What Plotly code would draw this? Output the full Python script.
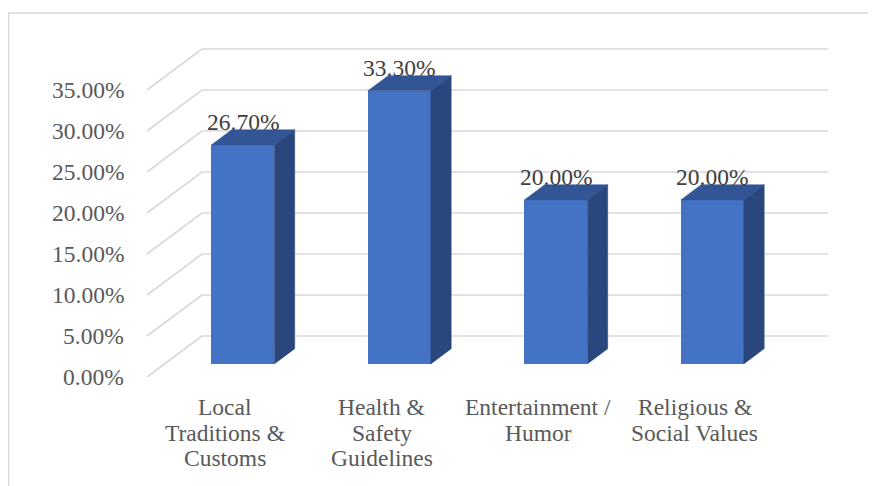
import plotly.graph_objects as go

# ---------------- data ----------------
categories = [
    "Local<br>Traditions &<br>Customs",
    "Health &<br>Safety<br>Guidelines",
    "Entertainment /<br>Humor",
    "Religious &<br>Social Values",
]
values = [26.7, 33.3, 20.0, 20.0]
value_labels = ["26.70%", "33.30%", "20.00%", "20.00%"]
y_ticks = [0, 5, 10, 15, 20, 25, 30, 35]
y_tick_labels = ["0.00%", "5.00%", "10.00%", "15.00%", "20.00%", "25.00%", "30.00%", "35.00%"]

# ---------------- geometry / style ----------------
OFF = 8               # page body margin of the browser
W, H = 876 - OFF, 486 - OFF
PX_X = 156.5          # pixels per category slot
PX_Y = 8.2            # pixels per percentage point
X0_PX = 225.25 - OFF  # pixel of first front slot centre
Y0_PX = 377.0 - OFF   # pixel of 0% on the front plane
DX = 55 / PX_X        # depth offset of the back wall (x units)
DY = 41 / PX_Y        # depth offset of the back wall (y units)
F0, F1 = 0.32, 0.69   # bar front / back depth fractions
HW = 31.5 / PX_X      # half bar width

FONT = "Liberation Serif"
FS = 23.5
GRID = "#d9d9d9"
FRONT = "#4472C4"
TOP = "#325596"
SIDE = "#29477D"

x_range = [-X0_PX / PX_X, (W - X0_PX) / PX_X]
y_range = [(Y0_PX - H) / PX_Y, Y0_PX / PX_Y]

n = len(values)
fig = go.Figure()

# gridlines (left wall diagonals + back wall horizontals)
shapes = []
for v in y_ticks:
    shapes.append(dict(type="line", xref="x", yref="y", layer="below",
                       x0=-0.5, y0=v, x1=-0.5 + DX, y1=v + DY,
                       line=dict(color=GRID, width=1.6)))
    shapes.append(dict(type="line", xref="x", yref="y", layer="below",
                       x0=-0.5 + DX, y0=v + DY, x1=n - 0.5 + DX, y1=v + DY,
                       line=dict(color=GRID, width=1.6)))
# outer chart border
shapes.append(dict(type="rect", xref="paper", yref="paper", layer="below",
                   x0=(8 - OFF + 0.5) / W, y0=-0.05, x1=1.05, y1=1 - (13 - OFF) / H,
                   line=dict(color=GRID, width=1.5), fillcolor="rgba(0,0,0,0)"))

# front faces of bars
xc = [i + F0 * DX for i in range(n)]
fig.add_trace(go.Bar(x=xc, y=values, base=F0 * DY, width=2 * HW,
                     marker=dict(color=FRONT, line=dict(width=0)),
                     hoverinfo="skip"))

ddx = (F1 - F0) * DX
ddy = (F1 - F0) * DY
for i, v in enumerate(values):
    xl, xr = xc[i] - HW, xc[i] + HW
    yb, yt = F0 * DY, v + F0 * DY
    # top face
    fig.add_trace(go.Scatter(
        x=[xl, xr, xr + ddx, xl + ddx, xl],
        y=[yt, yt, yt + ddy, yt + ddy, yt],
        mode="lines", fill="toself", fillcolor=TOP,
        line=dict(color=TOP, width=0.5), hoverinfo="skip"))
    # side face
    fig.add_trace(go.Scatter(
        x=[xr, xr, xr + ddx, xr + ddx, xr],
        y=[yb, yt, yt + ddy, yb + ddy, yb],
        mode="lines", fill="toself", fillcolor=SIDE,
        line=dict(color=SIDE, width=0.5), hoverinfo="skip"))

annotations = []
# y tick labels
for v, t in zip(y_ticks, y_tick_labels):
    annotations.append(dict(x=(126 - OFF - X0_PX) / PX_X, y=v, xref="x", yref="y",
                            text=t, showarrow=False, xanchor="right", yanchor="middle",
                            font=dict(family=FONT, size=FS, color="#595959")))
# data labels
for i, (v, t) in enumerate(zip(values, value_labels)):
    annotations.append(dict(x=xc[i], y=v + F0 * DY, xref="x", yref="y",
                            text=t, showarrow=False, xanchor="center", yanchor="middle",
                            yshift=23, font=dict(family=FONT, size=FS, color="#404040")))
# category labels (one annotation per line for Excel-like line spacing)
LINE_PX = 25.5
FIRST_PX = 407 - OFF
for i, c in enumerate(categories):
    for j, line in enumerate(c.split("<br>")):
        ypx = FIRST_PX + j * LINE_PX
        annotations.append(dict(x=i, y=(Y0_PX - ypx) / PX_Y, xref="x", yref="y",
                                text=line, showarrow=False, xanchor="center", yanchor="middle",
                                font=dict(family=FONT, size=FS, color="#595959")))

fig.update_layout(
    width=W, height=H,
    margin=dict(l=0, r=0, t=0, b=0),
    paper_bgcolor="white", plot_bgcolor="white",
    showlegend=False,
    xaxis=dict(range=x_range, visible=False, fixedrange=True),
    yaxis=dict(range=y_range, visible=False, fixedrange=True),
    shapes=shapes, annotations=annotations,
    bargap=0,
)

fig.write_html("out.html")
